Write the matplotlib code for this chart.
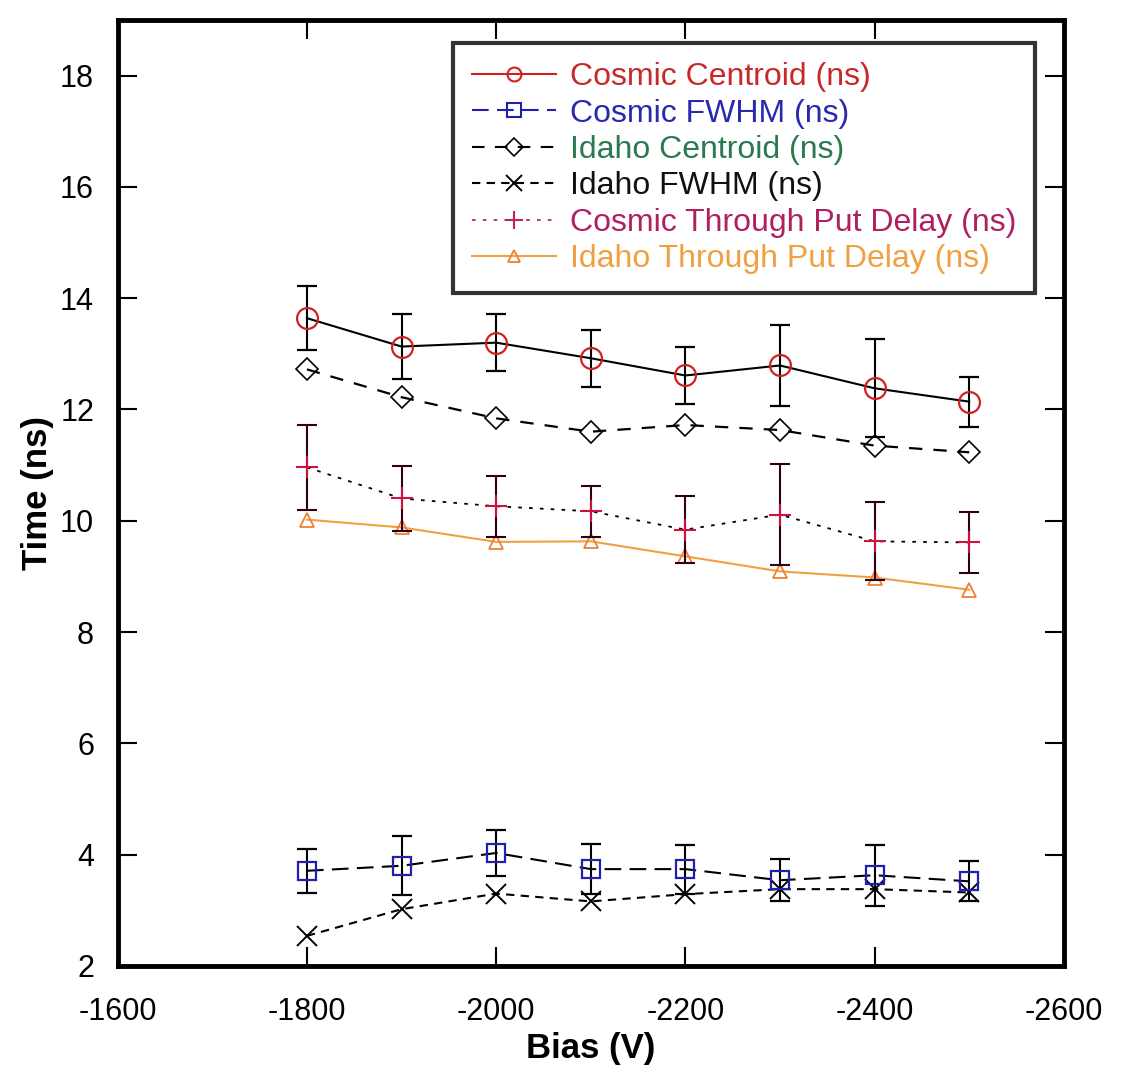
import matplotlib
matplotlib.use("Agg")
import matplotlib.pyplot as plt
from matplotlib.lines import Line2D
import numpy as np

plt.rcParams['font.family'] = ['Liberation Sans', 'DejaVu Sans']
plt.rcParams['axes.unicode_minus'] = False

bias = [-1800, -1900, -2000, -2100, -2200, -2300, -2400, -2500]

cosmic_centroid = [13.64, 13.13, 13.20, 12.92, 12.61, 12.79, 12.38, 12.14]
cosmic_centroid_err = [0.57, 0.59, 0.51, 0.51, 0.52, 0.73, 0.88, 0.45]

cosmic_fwhm = [3.71, 3.80, 4.03, 3.74, 3.74, 3.54, 3.63, 3.52]
cosmic_fwhm_err = [0.40, 0.53, 0.42, 0.45, 0.44, 0.38, 0.55, 0.36]

idaho_centroid = [12.72, 12.22, 11.84, 11.60, 11.72, 11.63, 11.35, 11.23]

idaho_fwhm = [2.54, 3.02, 3.30, 3.16, 3.29, 3.38, 3.38, 3.32]

cosmic_tpd = [10.96, 10.40, 10.26, 10.17, 9.84, 10.11, 9.63, 9.61]
cosmic_tpd_err = [0.76, 0.58, 0.55, 0.46, 0.60, 0.91, 0.70, 0.55]

idaho_tpd = [10.02, 9.88, 9.62, 9.63, 9.36, 9.09, 8.98, 8.76]

labels = ["Cosmic Centroid (ns)", "Cosmic FWHM (ns)", "Idaho Centroid (ns)",
          "Idaho FWHM (ns)", "Cosmic Through Put Delay (ns)", "Idaho Through Put Delay (ns)"]
label_colors = ["#c82828", "#2828b0", "#2a7a50", "#111111", "#b02060", "#f0a040"]

fig = plt.figure(figsize=(11.21, 10.69), dpi=100)
ax = fig.add_axes([0.105, 0.0964, 0.844, 0.885])

ax.plot(bias, idaho_tpd, color="#f0a040", lw=1.5, marker="^", ms=10,
        mfc="none", mec="#f08030", mew=1.3, zorder=2)
ax.errorbar(bias, cosmic_tpd, yerr=cosmic_tpd_err, color="black", ls=(0, (2, 4)), lw=1.3,
            marker="+", ms=16, mec="#d01040", mew=1.5, ecolor="#300010", elinewidth=1.5,
            capsize=7, capthick=1.5, zorder=3)
ax.plot(bias, idaho_centroid, color="black", ls=(0, (6, 5)), lw=1.6, marker="D", ms=11,
        mfc="none", mec="black", mew=1.2, zorder=3)
ax.errorbar(bias, cosmic_centroid, yerr=cosmic_centroid_err, color="black", ls="-", lw=1.5,
            marker="o", ms=15, mfc="none", mec="#d02020", mew=1.6, ecolor="black",
            elinewidth=1.5, capsize=7, capthick=1.5, zorder=4)
ax.plot(bias, idaho_fwhm, color="black", ls=(0, (4, 3)), lw=1.5, marker="x", ms=14,
        mec="black", mew=1.4, zorder=3)
ax.errorbar(bias, cosmic_fwhm, yerr=cosmic_fwhm_err, color="black", ls=(0, (8, 4)), lw=1.5,
            marker="s", ms=12.5, mfc="none", mec="#2020b0", mew=1.6, ecolor="black",
            elinewidth=1.5, capsize=7, capthick=1.5, zorder=4)

ax.set_xlim(-1600, -2600)
ax.set_ylim(2, 19)
ax.set_xticks([-1600, -1800, -2000, -2200, -2400, -2600])
ax.set_yticks([2, 4, 6, 8, 10, 12, 14, 16, 18])
ax.tick_params(direction="in", length=14, width=1.5, labelsize=22, top=True, right=True)
ax.tick_params(axis="x", pad=22)
ax.tick_params(axis="y", pad=17)
for s in ax.spines.values():
    s.set_linewidth(3.5)
ax.set_xlabel("Bias (V)", fontsize=25, fontweight="bold", labelpad=4)
ax.set_ylabel("Time (ns)", fontsize=25, fontweight="bold", labelpad=4)

handles = [
    Line2D([], [], color="#d02020", ls="-", lw=1.5, marker="o", ms=10, mfc="none", mec="#d02020", mew=1.5),
    Line2D([], [], color="#2020b0", ls=(0, (8, 4)), lw=1.5, marker="s", ms=10, mfc="none", mec="#2020b0", mew=1.5),
    Line2D([], [], color="black", ls=(0, (6, 5)), lw=1.5, marker="D", ms=9, mfc="none", mec="black", mew=1.2),
    Line2D([], [], color="black", ls=(0, (4, 3)), lw=1.5, marker="x", ms=11, mec="black", mew=1.4),
    Line2D([], [], color="#c02060", ls=(0, (2, 4)), lw=1.3, marker="+", ms=13, mec="#c02060", mew=1.5),
    Line2D([], [], color="#f0a040", ls="-", lw=1.5, marker="^", ms=9, mfc="none", mec="#f08030", mew=1.3),
]
leg = ax.legend(handles, labels, loc="upper right", bbox_to_anchor=(0.970, 0.9755), fontsize=23,
                frameon=True, fancybox=False, edgecolor="black", handlelength=2.6,
                labelspacing=0.2, borderpad=0.6, handletextpad=0.45, borderaxespad=0)
leg.get_frame().set_linewidth(3)
for t, c in zip(leg.get_texts(), label_colors):
    t.set_color(c)

fig.savefig("out.png", dpi=100)
